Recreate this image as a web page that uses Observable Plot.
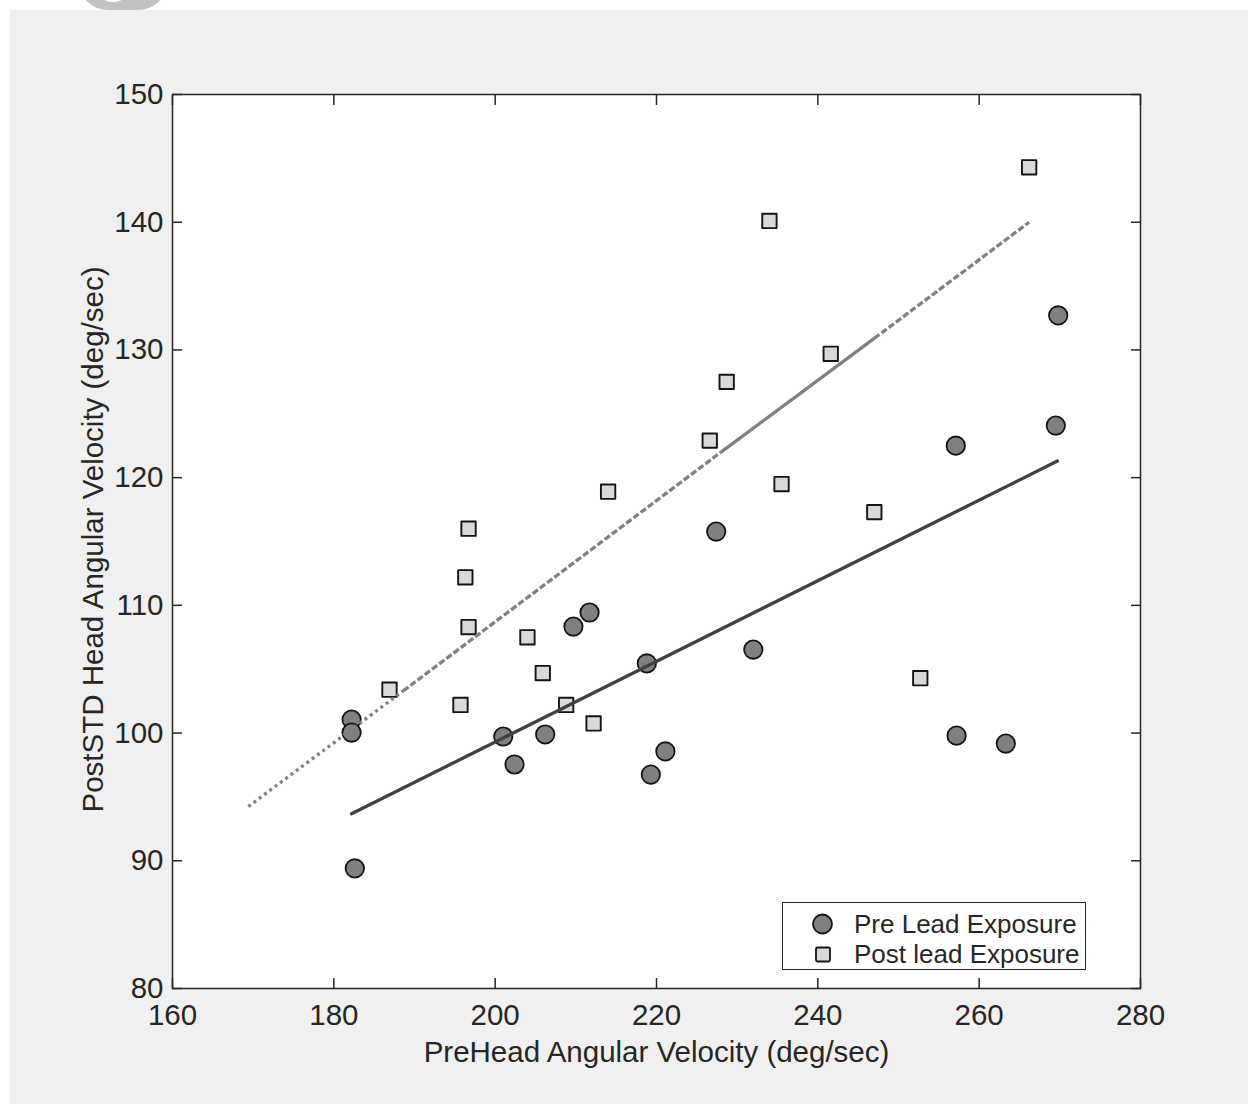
<!DOCTYPE html>
<html>
<head>
<meta charset="utf-8">
<script src="https://cdn.jsdelivr.net/npm/d3@7"></script>
<script src="https://cdn.jsdelivr.net/npm/@observablehq/plot@0.6"></script>
<style>
  html, body { margin: 0; padding: 0; background: #ffffff; }
  body { width: 1248px; height: 1104px; overflow: hidden; position: relative;
         font-family: "Liberation Sans", Arial, Helvetica, sans-serif; }
  #fig { position: absolute; left: 10px; top: 10px; width: 1238px; height: 1094px; background: #f0f0f0; }
  #logo { position: absolute; left: 78px; top: -30px; width: 90px; height: 40px; background: #c2c2c2;
          border-radius: 0 0 30px 30px; }
  #logoInner { position: absolute; left: 93px; top: -34px; width: 40px; height: 36px; background: #ffffff;
          border-radius: 0 0 20px 20px; }
  #chart { position: absolute; left: 0; top: 0; }
  #legend { position: absolute; left: 782px; top: 902px; width: 304px; height: 68px; box-sizing: border-box;
            border: 1.5px solid #262626; background: #ffffff; }
  #legend svg { position: absolute; left: -1.5px; top: -1.5px; }
</style>
</head>
<body>
<div id="fig"></div>
<div id="logo"></div>
<div id="logoInner"></div>
<div id="chart"></div>
<div id="legend"></div>
<script>
// ---- data ----
const preX = [182.2, 182.2, 182.6, 201.0, 202.4, 206.2, 209.7, 211.7, 218.8, 219.3, 221.1, 227.4, 232.0, 257.1, 257.2, 263.3, 269.5, 269.8];
const preY = [101.06, 100.04, 89.4, 99.73, 97.54, 99.89, 108.34, 109.44, 105.45, 96.75, 98.56, 115.78, 106.54, 122.5, 99.8, 99.18, 124.08, 132.7];

const postX = [186.9, 195.7, 196.3, 196.7, 196.7, 204.0, 205.9, 208.8, 212.2, 214.0, 226.6, 228.7, 234.0, 235.5, 241.6, 247.0, 252.7, 266.2];
const postY = [103.4, 102.2, 112.2, 116.0, 108.3, 107.5, 104.7, 102.2, 100.75, 118.9, 122.9, 127.5, 140.1, 119.5, 129.7, 117.3, 104.3, 144.3];

// fitted lines (as drawn)
const preFitX = [182.2, 269.7];
const preFitY = [93.68, 121.3];
const postFitX = [169.4, 188.6, 228.0, 247.0, 266.2];
const postFitY = [94.25, 103.3, 122.0, 130.9, 140.0];
const postFitStyle = ["dotted", "dashed", "solid", "dashed"];

const xTicks = [160, 180, 200, 220, 240, 260, 280];
const yTicks = [80, 90, 100, 110, 120, 130, 140, 150];

const xLabel = "PreHead Angular Velocity (deg/sec)";
const yLabel = "PostSTD Head Angular Velocity (deg/sec)";
const seriesNames = ["Pre Lead Exposure", "Post lead Exposure"];

// ---- build tables ----
const pre = preX.map((x, i) => ({x, y: preY[i]}));
const post = postX.map((x, i) => ({x, y: postY[i]}));
const preFit = preFitX.map((x, i) => ({x, y: preFitY[i]}));
const postSegs = postFitStyle.map((s, i) => ({
  x1: postFitX[i], y1: postFitY[i], x2: postFitX[i + 1], y2: postFitY[i + 1], style: s
}));

const ink = "#262626";
const dashes = {dotted: "3,3.6", dashed: "6.5,2.5", solid: null};

const segMarks = ["dotted", "dashed", "solid"].map(s => Plot.link(postSegs.filter(d => d.style === s), {
  x1: "x1", y1: "y1", x2: "x2", y2: "y2",
  stroke: "#808080", strokeWidth: 3.3, strokeDasharray: dashes[s] || undefined, strokeLinecap: "butt"
}));

const plot = Plot.plot({
  width: 1248, height: 1104,
  marginLeft: 172, marginRight: 108, marginTop: 94, marginBottom: 116,
  style: {background: "transparent", fontFamily: "'Liberation Sans', Arial, Helvetica, sans-serif", fontSize: "29.5px", color: ink},
  x: {domain: [160, 280]},
  y: {domain: [80, 150]},
  marks: [
    Plot.frame({fill: "#ffffff", stroke: null}),
    // tick labels
    Plot.axisX(xTicks, {anchor: "bottom", tickSize: 0, tickPadding: 16, label: null, fill: ink, tickFormat: d => String(d)}),
    Plot.axisY(yTicks, {anchor: "left", tickSize: 0, tickPadding: 9, label: null, fill: ink, tickFormat: d => String(d)}),
    // inward ticks on all four sides
    Plot.axisX(xTicks, {anchor: "bottom", tickSize: 10, dy: -10, fill: "none", label: null, stroke: ink, strokeWidth: 1.5}),
    Plot.axisX(xTicks, {anchor: "top", tickSize: 10, dy: 10, fill: "none", label: null, stroke: ink, strokeWidth: 1.5}),
    Plot.axisY(yTicks, {anchor: "left", tickSize: 10, dx: 10, fill: "none", label: null, stroke: ink, strokeWidth: 1.5}),
    Plot.axisY(yTicks, {anchor: "right", tickSize: 10, dx: -10, fill: "none", label: null, stroke: ink, strokeWidth: 1.5}),
    // markers
    Plot.dot(pre, {x: "x", y: "y", r: 9.2, fill: "#808080", stroke: "#141414", strokeWidth: 1.8}),
    Plot.dot(post, {x: "x", y: "y", r: 8.1, symbol: "square", fill: "#d9d9d9", stroke: "#141414", strokeWidth: 1.9, strokeLinejoin: "round"}),
    // fit lines
    Plot.line(preFit, {x: "x", y: "y", stroke: "#404040", strokeWidth: 3.3}),
    ...segMarks,
    Plot.frame({stroke: ink, strokeWidth: 1.5}),
    // axis titles
    Plot.text([xLabel], {text: d => d, frameAnchor: "bottom", dy: 73, lineAnchor: "bottom", textAnchor: "middle", fill: ink, fontSize: 29.5}),
    Plot.text([yLabel], {text: d => d, frameAnchor: "left", rotate: -90, dx: -70, dy: -2, lineAnchor: "bottom", textAnchor: "middle", fill: ink, fontSize: 29.5})
  ]
});
document.getElementById("chart").appendChild(plot);

// ---- legend ----
const lw = 304, lh = 68;
const leg = d3.select("#legend").append("svg").attr("width", lw).attr("height", lh);
leg.append("circle").attr("cx", 40.5).attr("cy", 22).attr("r", 9.5)
  .attr("fill", "#808080").attr("stroke", "#141414").attr("stroke-width", 1.8);
leg.append("rect").attr("x", 34).attr("y", 45.5).attr("width", 14).attr("height", 14).attr("rx", 1.5)
  .attr("fill", "#d9d9d9").attr("stroke", "#141414").attr("stroke-width", 1.8);
leg.selectAll("text").data(seriesNames).join("text")
  .attr("x", 72).attr("y", (d, i) => 31 + i * 30)
  .attr("font-family", "'Liberation Sans', Arial, Helvetica, sans-serif")
  .attr("font-size", 26).attr("fill", ink)
  .text(d => d);
</script>
</body>
</html>
